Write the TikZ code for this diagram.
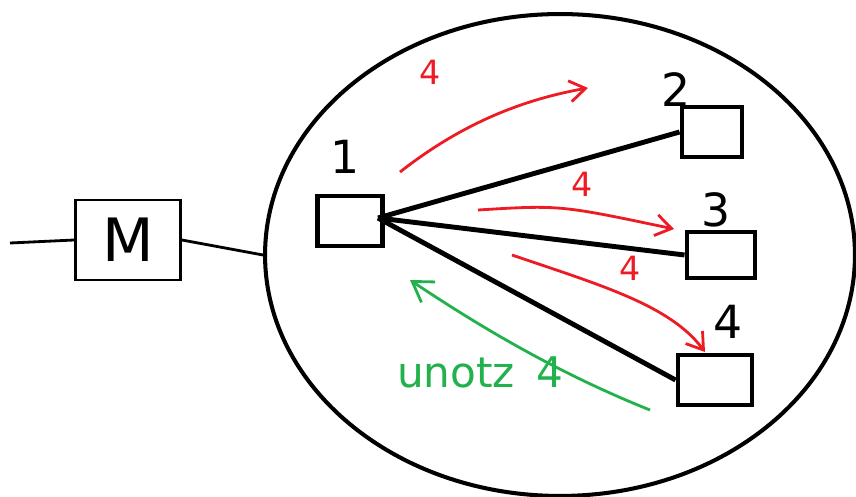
\documentclass[tikz,border=0pt]{standalone}
\usepackage{fontspec}
\setmainfont{DejaVu Sans}
\usetikzlibrary{shapes.geometric, arrows.meta, positioning}
\definecolor{sketchred}{RGB}{237, 28, 36}
\definecolor{sketchgreen}{RGB}{34, 177, 76}

\begin{document}
\begin{tikzpicture}[
    x=0.02cm, y=-0.02cm,
    station/.style={draw, line width=2.8pt, minimum width=1.3cm, minimum height=1cm, inner sep=0pt},
    num/.style={font=\fontsize{26}{28}\selectfont},
    link/.style={line width=2.8pt},
    msg/.style={sketchred, line width=1.6pt, -{Straight Barb[length=9pt, width=12pt]}},
    reply/.style={sketchgreen, line width=1.6pt, -{Straight Barb[length=11pt, width=14pt]}},
    hops/.style={sketchred, font=\fontsize{19}{21}\selectfont}
]
    \useasboundingbox (0,0) rectangle (856,497);

    % Network area
    \node[draw, ellipse, line width=2.3pt, minimum width=11.8cm, minimum height=9.64cm] (net) at (560,255) {};

    % Stations
    \node[station] (s1) at (350,221) {};
    \node[station, minimum width=1.2cm] (s2) at (712,132) {};
    \node[station, minimum width=1.36cm, minimum height=0.92cm] (s3) at (721,255) {};
    \node[station, minimum width=1.48cm] (s4) at (715,380) {};
    \node[num] at (345,157) {1};
    \node[num] at (676,90) {2};
    \node[num] at (716,210) {3};
    \node[num] at (728,322) {4};

    % Links
    \coordinate (hub) at (378,218);
    \draw[link] (hub) -- (s2.west);
    \draw[link] (hub) -- (s3.west);
    \draw[link] (hub) -- (s4.west);

    % Modem
    \node[draw, line width=1.6pt, minimum width=2.1cm, minimum height=1.6cm, font=\fontsize{34}{36}\selectfont] (M) at (128,240) {M};
    \coordinate (feed) at (10,243);
    \draw[line width=1.6pt] (feed) -- (M.west);
    \draw[line width=1.6pt] (M.east) -- (net.west);

    % Messages
    \coordinate (a1) at (400,172);
    \coordinate (b1) at (588,88);
    \coordinate (a2) at (478,210);
    \coordinate (b2) at (674,229);
    \coordinate (a3) at (512,255);
    \coordinate (b3) at (705,352);
    \coordinate (a4) at (650,410);
    \coordinate (b4) at (410,280);
    \draw[msg] (a1) .. controls (460,125) and (520,100) .. (b1);
    \draw[msg] (a2) .. controls (560,205) .. (b2);
    \draw[msg] (a3) .. controls (600,285) and (670,305) .. (b3);
    \draw[reply] (a4) .. controls (550,370) and (470,320) .. (b4);
    \node[hops] at (430,72) {4};
    \node[hops] at (582,184) {4};
    \node[hops] at (630,268) {4};
    \node[sketchgreen, font=\fontsize{24}{26}\selectfont] at (480,372) {unotz\enspace 4};
\end{tikzpicture}
\end{document}
